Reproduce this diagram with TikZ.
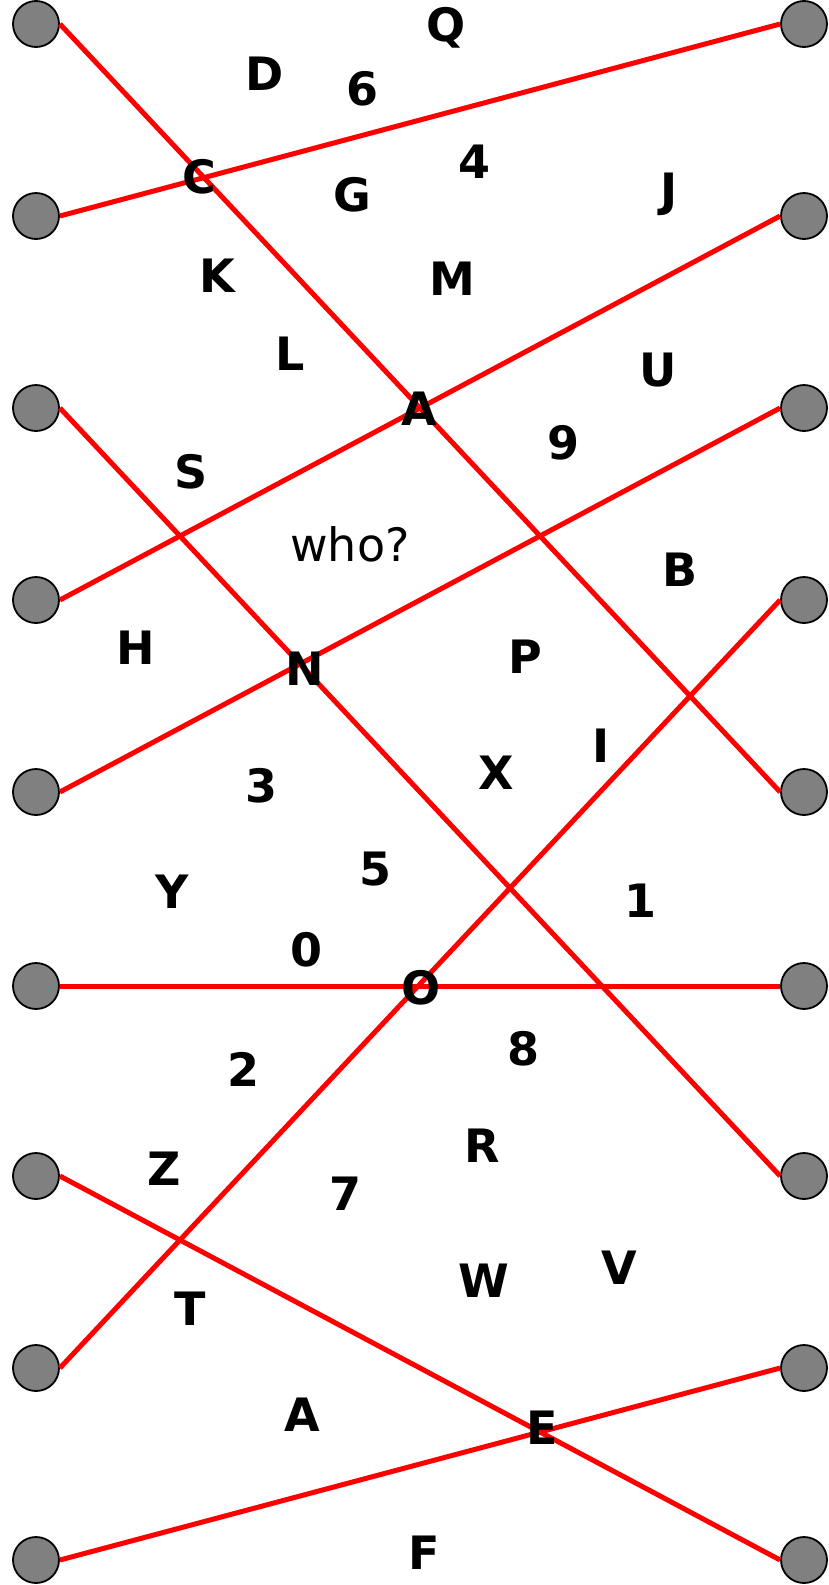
\documentclass[tikz,border=0pt]{standalone}
\usepackage{fontspec}
\setmainfont{DejaVu Sans}
\begin{document}
\begin{tikzpicture}[x=1pt,y=-1pt,
  dot/.style={circle,draw=black,line width=1.8pt,fill=gray,minimum size=46pt,inner sep=0pt},
  wire/.style={red,line width=5pt},
  lab/.style={font=\fontsize{46}{46}\selectfont\bfseries,inner sep=0pt},
  qlab/.style={font=\fontsize{46}{46}\selectfont,inner sep=0pt}]
\useasboundingbox (0,0) rectangle (828,1585);
\foreach \i/\y in {1/24,2/216,3/408,4/600,5/792,6/986,7/1176,8/1368,9/1560}{
  \node[dot] (l\i) at (36,\y) {};
  \node[dot] (r\i) at (804,\y) {};
}
\draw[wire] (l1.east) -- (r5.west);
\draw[wire] (l2.east) -- (r1.west);
\draw[wire] (l3.east) -- (r7.west);
\draw[wire] (l4.east) -- (r2.west);
\draw[wire] (l5.east) -- (r3.west);
\draw[wire] (l6.east) -- (r6.west);
\draw[wire] (l7.east) -- (r9.west);
\draw[wire] (l8.east) -- (r4.west);
\draw[wire] (l9.east) -- (r8.west);
\node[lab] (tQ) at (446,28) {Q};
\node[lab] (tD) at (265,74) {D};
\node[lab] (t6) at (362,89) {6};
\node[lab] (tC) at (199,177) {C};
\node[lab] (t4) at (474,162) {4};
\node[lab] (tG) at (352,195) {G};
\node[lab] (tJ) at (669,194) {J};
\node[lab] (tK) at (217,276) {K};
\node[lab] (tM) at (452,279) {M};
\node[lab] (tL) at (290,354) {L};
\node[lab] (tU) at (658,370) {U};
\node[lab] (tA) at (419,409) {A};
\node[lab] (t9) at (563,443) {9};
\node[lab] (tS) at (191,472) {S};
\node[qlab] (twho) at (350,544) {who?};
\node[lab] (tB) at (680,570) {B};
\node[lab] (tH) at (136,648) {H};
\node[lab] (tN) at (305,669) {N};
\node[lab] (tP) at (525,657) {P};
\node[lab] (tI) at (601,746) {I};
\node[lab] (tX) at (496,773) {X};
\node[lab] (t3) at (262,786) {3};
\node[lab] (tY) at (172,892) {Y};
\node[lab] (t5) at (375,869) {5};
\node[lab] (t1) at (640,901) {1};
\node[lab] (t0) at (306,950) {0};
\node[lab] (tO) at (421,988) {O};
\node[lab] (t8) at (523,1049) {8};
\node[lab] (t2) at (244,1069) {2};
\node[lab] (tR) at (482,1146) {R};
\node[lab] (tZ) at (164,1169) {Z};
\node[lab] (t7) at (345,1194) {7};
\node[lab] (tV) at (619,1268) {V};
\node[lab] (tW) at (484,1281) {W};
\node[lab] (tT) at (190,1309) {T};
\node[lab] (tA2) at (302,1415) {A};
\node[lab] (tE) at (542,1428) {E};
\node[lab] (tF) at (424,1553) {F};
\end{tikzpicture}
\end{document}
